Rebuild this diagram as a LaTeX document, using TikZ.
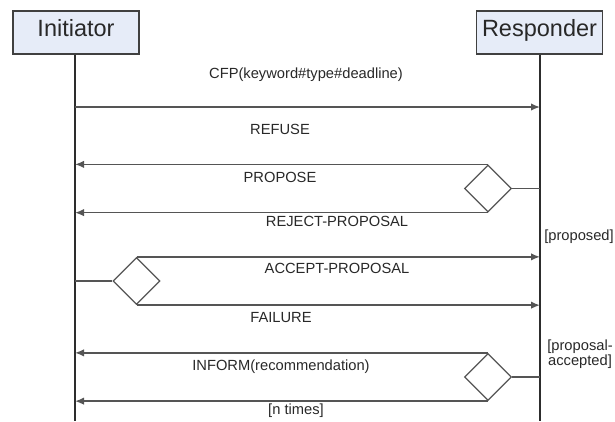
\documentclass[tikz,border=0pt]{standalone}
\usepackage{fontspec}
\setmainfont{Liberation Sans}
\usetikzlibrary{arrows.meta,shapes.geometric}
\definecolor{boxfill}{RGB}{230,236,248}
\definecolor{boxline}{RGB}{64,64,64}
\definecolor{lifecol}{RGB}{45,45,45}
\definecolor{msgcol}{RGB}{85,85,85}
\definecolor{txtcol}{RGB}{40,40,40}
\tikzset{
  actor/.style={draw=boxline, line width=1.4bp, fill=boxfill, minimum width=126bp,
    minimum height=43bp, inner sep=0pt, font=\fontsize{23.5bp}{26bp}\selectfont, text=txtcol,
    text height=0.72em, text depth=0pt},
  lifeline/.style={draw=lifecol, line width=1.8bp},
  msg/.style={draw=msgcol, line width=1.6bp, -{Latex[length=9bp,width=7.5bp]}},
  link/.style={draw=msgcol, line width=1.6bp},
  choice/.style={diamond, draw=msgcol, line width=1.3bp, fill=white, inner sep=0pt,
    minimum width=47bp, minimum height=47bp},
  lbl/.style={font=\fontsize{14.7bp}{14.5bp}\selectfont, text=txtcol, inner sep=0pt,
    text height=0.72em, text depth=0pt}
}
\begin{document}
\begin{tikzpicture}[x=1bp, y=-1bp]
  \useasboundingbox (0,0) rectangle (615,421);

  % participants
  \node[actor] (ini) at (76,32.5) {Initiator};
  \node[actor] (res) at (539.5,32.5) {Responder};
  \coordinate (iniEnd) at (75,421);
  \coordinate (resEnd) at (540,421);
  \draw[lifeline] (ini.south -| iniEnd) -- (iniEnd);
  \draw[lifeline] (res.south -| resEnd) -- (resEnd);

  % lifeline anchor points
  \coordinate (i1) at (75,107);   \coordinate (r1) at (540,107);
  \coordinate (i2) at (75,165);
  \coordinate (i3) at (75,212);
  \coordinate (r4) at (540,257);
  \coordinate (r5) at (540,305);
  \coordinate (i6) at (75,353);
  \coordinate (i7) at (75,401);
  \coordinate (rc1) at (540,188.5);
  \coordinate (ic) at (75,281);
  \coordinate (rc2) at (540,377);

  % decision diamonds
  \node[choice] (d1) at (488,188.5) {};
  \node[choice] (d2) at (136.5,281) {};
  \node[choice] (d3) at (488,377) {};

  % messages
  \draw[msg] (i1) -- (r1);
  \draw[link] (rc1) -- (d1.east);
  \draw[msg] (d1.north) -- (d1.north -| i2);
  \draw[msg] (d1.south) -- (d1.south -| i3);
  \draw[link] (ic) -- (d2.west);
  \draw[msg] (d2.north) -- (d2.north -| r4);
  \draw[msg] (d2.south) -- (d2.south -| r5);
  \draw[link] (rc2) -- (d3.east);
  \draw[msg] (d3.north) -- (d3.north -| i6);
  \draw[msg] (d3.south) -- (d3.south -| i7);

  % labels
  \node[lbl] (l1) at (306,75) {CFP(keyword\#type\#deadline)};
  \node[lbl] (l2) at (280,131) {REFUSE};
  \node[lbl] (l3) at (280,179) {PROPOSE};
  \node[lbl] (l4) at (337,223) {REJECT-PROPOSAL};
  \node[lbl] (l5) at (579,237) {[proposed]};
  \node[lbl] (l6) at (337,270) {ACCEPT-PROPOSAL};
  \node[lbl] (l7) at (281,319) {FAILURE};
  \node[lbl, align=center, text height=, text depth=] (l8) at (580,354) {[proposal-\\accepted]};
  \node[lbl] (l9) at (281,367) {INFORM(recommendation)};
  \node[lbl] (l10) at (296,411) {[n times]};
\end{tikzpicture}
\end{document}
